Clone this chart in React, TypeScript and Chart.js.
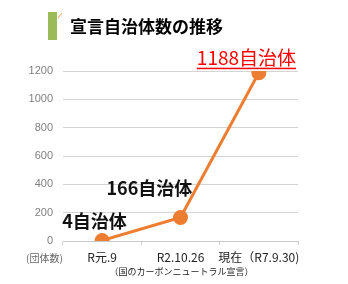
import React, { useEffect, useRef } from "react";
import { Chart, registerables } from "chart.js";

Chart.register(...registerables);

const categories = ["R元.9", "R2.10.26", "現在（R7.9.30)"];
const values = [4, 166, 1188];
const valueLabels = ["4自治体", "166自治体", "1188自治体"];
const yTicks = [0, 200, 400, 600, 800, 1000, 1200];
const title = "宣言自治体数の推移";
const unitLabel = "(団体数)";
const subNote = "（国のカーボンニュートラル宣言）";

const JP = '"Noto Sans CJK JP", "Noto Sans", sans-serif';

const overlay = {
  id: "overlay",
  afterDraw(chart: any) {
    const ctx = chart.ctx;
    const xs = chart.scales.x;
    const ys = chart.scales.y;
    ctx.save();
    // title bar
    ctx.fillStyle = "#9bbb59";
    ctx.fillRect(48, 12, 9, 28);
    ctx.strokeStyle = "#f0a050";
    ctx.lineWidth = 1;
    ctx.beginPath();
    ctx.moveTo(58, 18);
    ctx.lineTo(62, 13);
    ctx.stroke();
    ctx.fillStyle = "#000";
    ctx.font = `bold 17px ${JP}`;
    ctx.textAlign = "left";
    ctx.textBaseline = "middle";
    ctx.fillText(title, 70, 27);

    // value labels
    const p0 = { x: xs.getPixelForValue(0), y: ys.getPixelForValue(values[0]) };
    const p1 = { x: xs.getPixelForValue(1), y: ys.getPixelForValue(values[1]) };
    const p2 = { x: xs.getPixelForValue(2), y: ys.getPixelForValue(values[2]) };
    ctx.font = `bold 18px ${JP}`;
    ctx.fillStyle = "#111";
    ctx.textAlign = "left";
    ctx.fillText(valueLabels[0], p0.x - 40, p0.y - 19);
    ctx.fillText(valueLabels[1], p1.x - 74, p1.y - 29);
    ctx.fillStyle = "#ff0000";
    ctx.font = `19px ${JP}`;
    const lx = p2.x - 62;
    const ly = p2.y - 15;
    ctx.fillText(valueLabels[2], lx, ly);
    const w = ctx.measureText(valueLabels[2]).width;
    ctx.fillRect(lx, ly + 10, w, 1.5);

    // unit label
    ctx.fillStyle = "#666";
    ctx.font = `10px ${JP}`;
    ctx.textAlign = "left";
    ctx.fillText(unitLabel, 26, 258);

    // sub note under middle tick
    ctx.fillStyle = "#222";
    ctx.font = `9px ${JP}`;
    ctx.textAlign = "center";
    ctx.fillText(subNote, xs.getPixelForValue(1) + 1, 272);
    ctx.restore();
  },
};

export default function App() {
  const ref = useRef<HTMLCanvasElement>(null);
  useEffect(() => {
    const chart = new Chart(ref.current!, {
      type: "line",
      data: {
        labels: categories,
        datasets: [
          {
            data: values,
            borderColor: "#ed7d31",
            backgroundColor: "#ed7d31",
            borderWidth: 3,
            pointRadius: 6,
            pointBackgroundColor: "#ed7d31",
            pointBorderColor: "#ed7d31",
            tension: 0,
          },
        ],
      },
      options: {
        animation: false,
        responsive: false,
        layout: { padding: { top: 71, right: 50, left: 0, bottom: 0 } },
        plugins: { legend: { display: false }, tooltip: { enabled: false } },
        scales: {
          x: {
            offset: true,
            grid: {
              offset: true,
              drawOnChartArea: false,
              tickLength: 4,
              color: "#d0d0d0",
            },
            border: { color: "#c8c8c8", width: 1 },
            ticks: {
              color: "#222",
              font: { size: 12, family: JP },
              padding: 5,
              maxRotation: 0,
              autoSkip: false,
            },
            afterFit: (s: any) => {
              s.height = 43;
            },
          },
          y: {
            min: 0,
            max: 1200,
            afterBuildTicks: (s: any) => {
              s.ticks = yTicks.map((v) => ({ value: v }));
            },
            grid: { color: "#d4d4d4", lineWidth: 1, drawTicks: false },
            border: { display: false },
            ticks: {
              color: "#7f7f7f",
              font: { size: 11, family: "Liberation Sans, Arial, sans-serif" },
              padding: 10,
              callback: (v: any) => String(v),
            },
            afterFit: (s: any) => {
              s.width = 63;
            },
          },
        },
      },
      plugins: [overlay],
    });
    return () => chart.destroy();
  }, []);
  return (
    <div style={{ position: "fixed", left: 0, top: 0, width: 348, height: 284, background: "#fff" }}>
      <canvas ref={ref} width={348} height={284} style={{ width: 348, height: 284 }} />
    </div>
  );
}
